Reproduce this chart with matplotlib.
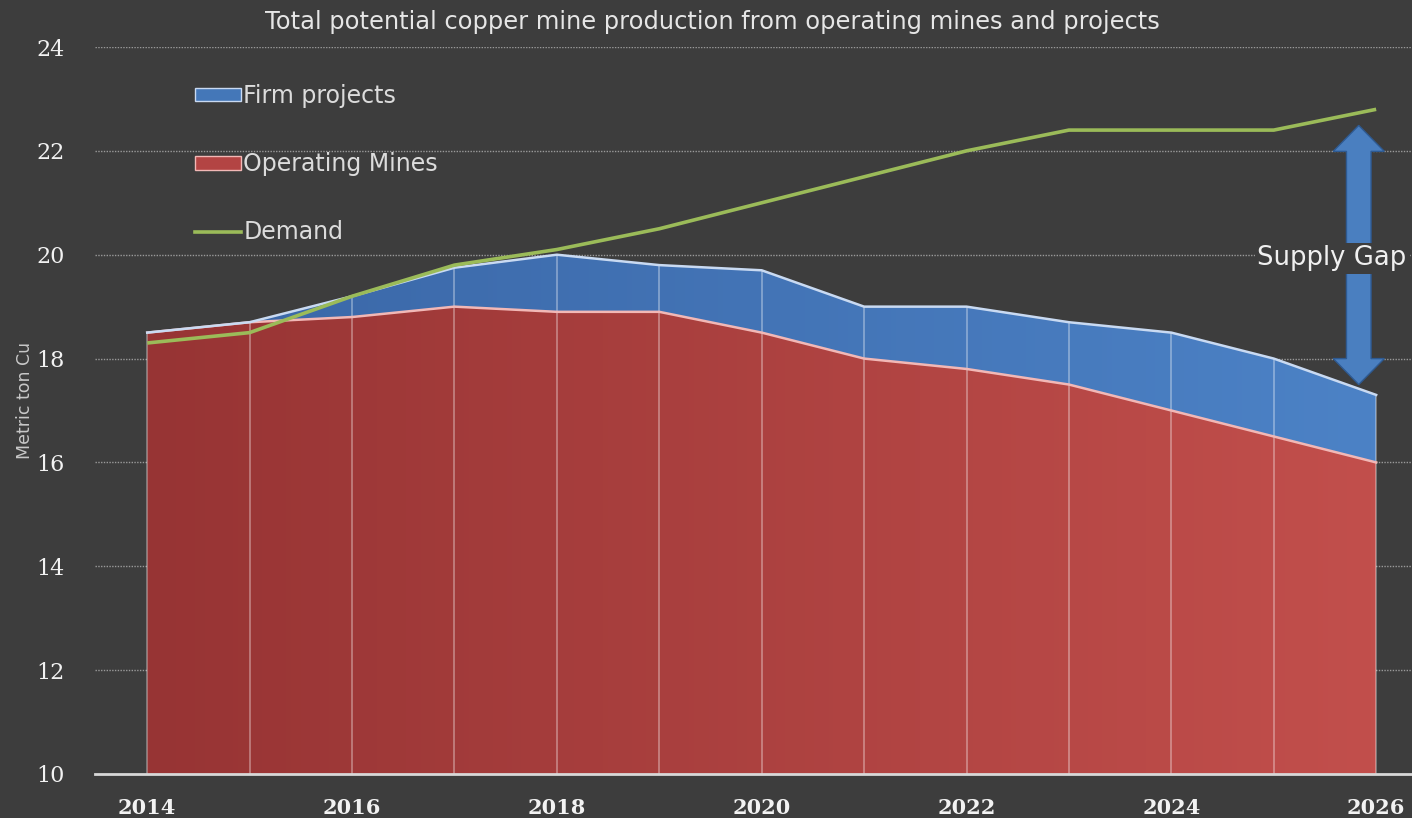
import numpy as np
import matplotlib
matplotlib.use("Agg")
import matplotlib.pyplot as plt
from matplotlib.patches import PathPatch, Patch, FancyArrow
from matplotlib.lines import Line2D
from matplotlib.colors import LinearSegmentedColormap

# ---- data ----
years = [2014, 2015, 2016, 2017, 2018, 2019, 2020, 2021, 2022, 2023, 2024, 2025, 2026]
operating_mines = [18.5, 18.7, 18.8, 19.0, 18.9, 18.9, 18.5, 18.0, 17.8, 17.5, 17.0, 16.5, 16.0]
total_with_projects = [18.5, 18.7, 19.2, 19.75, 20.0, 19.8, 19.7, 19.0, 19.0, 18.7, 18.5, 18.0, 17.3]
demand = [18.3, 18.5, 19.2, 19.8, 20.1, 20.5, 21.0, 21.5, 22.0, 22.4, 22.4, 22.4, 22.8]
y_ticks = [10, 12, 14, 16, 18, 20, 22, 24]
x_ticks = [2014, 2016, 2018, 2020, 2022, 2024, 2026]
title = "Total potential copper mine production from operating mines and projects"
labels = ["Firm projects", "Operating Mines", "Demand"]

BG = "#3d3d3d"
x = np.array(years, dtype=float)
om = np.array(operating_mines)
tot = np.array(total_with_projects)

fig = plt.figure(figsize=(14.12, 8.18), dpi=100, facecolor=BG)
ax = fig.add_axes([95 / 1412, 44 / 818, 1 - 95 / 1412, (774 - 47) / 818])
ax.set_facecolor(BG)
ax.set_xlim(2013.49, 2026.35)
ax.set_ylim(10, 24)

# gridlines
for yv in y_ticks[1:]:
    ax.axhline(yv, color="#9a9a9a", lw=1.0, ls=(0, (1, 1)), zorder=0)


def gradient_fill(lower, upper, c_left, c_right, z):
    poly = ax.fill_between(x, lower, upper, color="none", lw=0)
    patch = PathPatch(poly.get_paths()[0], transform=ax.transData,
                      facecolor="none", edgecolor="none")
    ax.add_patch(patch)
    cmap = LinearSegmentedColormap.from_list("g", [c_left, c_right])
    grad = np.linspace(0, 1, 256).reshape(1, -1)
    im = ax.imshow(grad, cmap=cmap, aspect="auto",
                   extent=[x[0], x[-1], 10, 24], origin="lower", zorder=z)
    im.set_clip_path(patch)
    return im


gradient_fill(np.full_like(om, 10.0), om, "#973434", "#c24f4c", 1)
gradient_fill(om, tot, "#3a66a6", "#4c82c6", 1)

# vertical year separators
ax.vlines(x, 10, tot, color="#ffffff", alpha=0.35, lw=1.3, zorder=2)
# area edges
ax.plot(x, om, color="#f2b8b6", lw=1.8, zorder=3)
ax.plot(x, tot, color="#c9daf2", lw=1.8, zorder=3)

# demand line
ax.plot(x, demand, color="#9bbb59", lw=2.6, zorder=4, solid_capstyle="butt")

# axes styling
for s in ["top", "right", "left"]:
    ax.spines[s].set_visible(False)
ax.spines["bottom"].set_color("#d8d8d8")
ax.spines["bottom"].set_linewidth(2)
ax.spines["bottom"].set_zorder(5)
ax.set_yticks(y_ticks)
ax.set_xticks(x_ticks)
ax.tick_params(axis="both", length=0)
ax.tick_params(axis="y", pad=22, labelcolor="#f2f2f2")
ax.tick_params(axis="x", pad=17, labelcolor="#f2f2f2")
for t in ax.get_yticklabels():
    t.set_fontfamily("DejaVu Serif")
    t.set_fontsize(16)
for t in ax.get_xticklabels():
    t.set_fontfamily("DejaVu Serif")
    t.set_fontweight("bold")
    t.set_fontsize(15)

# title & y label
fig.text(712 / 1412, 1 - 22 / 818, title, ha="center", va="center",
         fontsize=17.4, color="#e6e6e6", family="DejaVu Sans")
fig.text(25 / 1412, 1 - 400 / 818, "Metric ton Cu", rotation=90,
         ha="center", va="center", fontsize=12.5, color="#c8c8c8")

# legend
handles = [Patch(facecolor="#4477b8", edgecolor="#c9daf2", lw=1),
           Patch(facecolor="#b34443", edgecolor="#f2b8b6", lw=1),
           Line2D([0], [0], color="#9bbb59", lw=2.6)]
leg = ax.legend(handles, labels, loc="upper left",
                bbox_to_anchor=((195 - 95) / 1317, (774 - 84) / 727),
                frameon=False, fontsize=17, labelcolor="#dcdcdc",
                handlelength=1.95, handleheight=0.5, handletextpad=0.1,
                labelspacing=1.87, borderpad=0, borderaxespad=0)

# supply gap arrow (two heads from the middle)
ax_x = 2025.83
mid = 20.0
for tip in (22.49, 17.5):
    arr = FancyArrow(ax_x, mid, 0, tip - mid, width=0.24, head_width=0.5,
                     head_length=0.5, length_includes_head=True,
                     facecolor="#4a7fc0", edgecolor="#2e5a92", lw=1, zorder=5)
    ax.add_patch(arr)
ax.text(2025.57, 19.93, "Supply Gap", ha="center", va="center", fontsize=18.6,
        color="#f0f0f0", zorder=6, clip_on=False,
        bbox=dict(facecolor=BG, edgecolor="none", pad=2))

fig.savefig("out.png", dpi=100, facecolor=BG)
